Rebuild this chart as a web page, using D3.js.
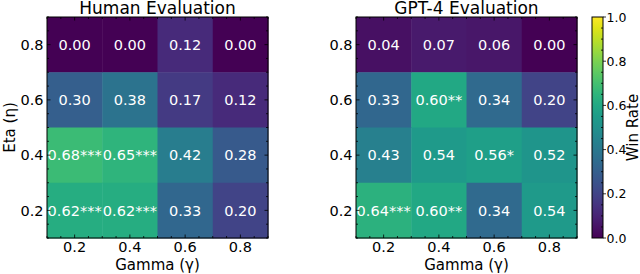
<!DOCTYPE html>
<html>
<head>
<meta charset="utf-8">
<script src="https://cdn.jsdelivr.net/npm/d3@7"></script>
<style>
  body { margin: 0; background: #fff; }
  text { font-family: "DejaVu Sans", sans-serif; }
</style>
</head>
<body>
<svg id="chart" width="640" height="274"></svg>
<script>
// data: rows are eta from top (0.8) to bottom (0.2), columns gamma 0.2..0.8
const gammas = [0.2, 0.4, 0.6, 0.8];
const etas = [0.8, 0.6, 0.4, 0.2];
const humanValues = [
  [0.00, 0.00, 0.12, 0.00],
  [0.30, 0.38, 0.17, 0.12],
  [0.68, 0.65, 0.42, 0.28],
  [0.62, 0.62, 0.33, 0.20]
];
const humanStars = [
  ["", "", "", ""],
  ["", "", "", ""],
  ["***", "***", "", ""],
  ["***", "***", "", ""]
];
const gptValues = [
  [0.04, 0.07, 0.06, 0.00],
  [0.33, 0.60, 0.34, 0.20],
  [0.43, 0.54, 0.56, 0.52],
  [0.64, 0.60, 0.34, 0.54]
];
const gptStars = [
  ["", "", "", ""],
  ["", "**", "", ""],
  ["", "", "*", ""],
  ["***", "**", "", ""]
];
const tickLabels = ["0.2", "0.4", "0.6", "0.8"];
const cbarTicks = [0, 0.2, 0.4, 0.6, 0.8, 1.0];

const svg = d3.select("#chart");
const plotTop = 17, size = 221;
const color = d3.scaleSequential(d3.interpolateViridis).domain([0, 1]);

function minorTicks() {
  let t = [];
  for (let v = 0.1; v < 0.9001; v += 0.05) {
    const r = Math.round(v * 100) / 100;
    if (Math.round(r * 100) % 20 !== 0) t.push(r);
  }
  return t;
}

function heatmap(left, title, values, stars) {
  const g = svg.append("g").attr("transform", `translate(${left},${plotTop})`);
  const x = d3.scaleLinear().domain([0.1, 0.9]).range([0, size]);
  const y = d3.scaleLinear().domain([0.1, 0.9]).range([size, 0]);
  const cell = x(0.3) - x(0.1);

  values.forEach((row, i) => {
    row.forEach((v, j) => {
      const cx = x(gammas[j]), cy = y(etas[i]);
      g.append("rect")
        .attr("x", cx - cell / 2)
        .attr("y", cy - cell / 2)
        .attr("width", cell + 0.5)
        .attr("height", cell + 0.5)
        .attr("fill", color(v));
      g.append("text")
        .attr("x", cx)
        .attr("y", cy)
        .attr("dy", "0.36em")
        .attr("text-anchor", "middle")
        .attr("fill", "white")
        .style("font-size", "14.5px")
        .text(v.toFixed(2) + stars[i][j]);
    });
  });

  // inward ticks on all sides
  const minors = minorTicks();
  const tk = g.append("g").attr("stroke", "black").attr("stroke-width", 0.8);
  gammas.forEach(v => {
    tk.append("line").attr("x1", x(v)).attr("x2", x(v)).attr("y1", size).attr("y2", size - 3.5);
    tk.append("line").attr("x1", x(v)).attr("x2", x(v)).attr("y1", 0).attr("y2", 3.5);
    tk.append("line").attr("y1", y(v)).attr("y2", y(v)).attr("x1", 0).attr("x2", 3.5);
    tk.append("line").attr("y1", y(v)).attr("y2", y(v)).attr("x1", size).attr("x2", size - 3.5);
  });
  minors.forEach(v => {
    tk.append("line").attr("x1", x(v)).attr("x2", x(v)).attr("y1", size).attr("y2", size - 2);
    tk.append("line").attr("x1", x(v)).attr("x2", x(v)).attr("y1", 0).attr("y2", 2);
    tk.append("line").attr("y1", y(v)).attr("y2", y(v)).attr("x1", 0).attr("x2", 2);
    tk.append("line").attr("y1", y(v)).attr("y2", y(v)).attr("x1", size).attr("x2", size - 2);
  });

  g.append("rect")
    .attr("width", size).attr("height", size)
    .attr("fill", "none").attr("stroke", "black").attr("stroke-width", 1);

  gammas.forEach((v, i) => {
    g.append("text")
      .attr("x", x(v)).attr("y", size + 14)
      .attr("text-anchor", "middle")
      .style("font-size", "14.5px")
      .text(tickLabels[i]);
    g.append("text")
      .attr("x", -3.5).attr("y", y(v)).attr("dy", "0.36em")
      .attr("text-anchor", "end")
      .style("font-size", "14.5px")
      .text(tickLabels[i]);
  });

  g.append("text")
    .attr("x", size / 2).attr("y", size + 31.5)
    .attr("text-anchor", "middle")
    .style("font-size", "15px")
    .text("Gamma (γ)");

  g.append("text")
    .attr("x", size / 2).attr("y", -3.5)
    .attr("text-anchor", "middle")
    .style("font-size", "17px")
    .text(title);

  return g;
}

heatmap(47, "Human Evaluation", humanValues, humanStars);
heatmap(356, "GPT-4 Evaluation", gptValues, gptStars);

svg.append("text")
  .attr("transform", `translate(15,${plotTop + size / 2}) rotate(-90)`)
  .attr("text-anchor", "middle")
  .style("font-size", "15px")
  .text("Eta (η)");

// colorbar
const cbX = 592, cbW = 11;
const cy = d3.scaleLinear().domain([0, 1]).range([plotTop + size, plotTop]);
const defs = svg.append("defs");
const grad = defs.append("linearGradient").attr("id", "viridis")
  .attr("x1", 0).attr("y1", 1).attr("x2", 0).attr("y2", 0);
d3.range(0, 1.0001, 0.05).forEach(t => {
  grad.append("stop").attr("offset", t).attr("stop-color", color(t));
});
svg.append("rect")
  .attr("x", cbX).attr("y", plotTop)
  .attr("width", cbW).attr("height", size)
  .attr("fill", "url(#viridis)")
  .attr("stroke", "black").attr("stroke-width", 1);

const cbTk = svg.append("g").attr("stroke", "black").attr("stroke-width", 0.8);
cbarTicks.forEach(v => {
  cbTk.append("line").attr("x1", cbX + cbW).attr("x2", cbX + cbW + 3).attr("y1", cy(v)).attr("y2", cy(v));
});
d3.range(0.05, 1, 0.05).forEach(v => {
  if (Math.round(v * 100) % 20 !== 0) {
    cbTk.append("line").attr("x1", cbX + cbW).attr("x2", cbX + cbW - 2).attr("y1", cy(v)).attr("y2", cy(v));
  }
});
cbarTicks.forEach(v => {
  svg.append("text")
    .attr("x", cbX + cbW + 3.5).attr("y", cy(v)).attr("dy", "0.36em")
    .style("font-size", "12.5px")
    .text(v.toFixed(1));
});
svg.append("text")
  .attr("transform", `translate(637.5,${plotTop + size / 2}) rotate(-90)`)
  .attr("text-anchor", "middle")
  .style("font-size", "15px")
  .text("Win Rate");
</script>
</body>
</html>
